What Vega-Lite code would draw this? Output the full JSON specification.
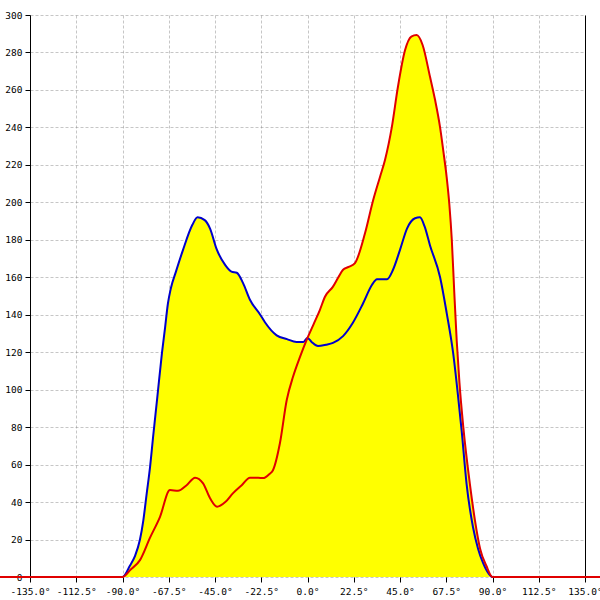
{
  "$schema": "https://vega.github.io/schema/vega-lite/v6.json",
  "width": 555,
  "height": 562,
  "autosize": {"type": "none"},
  "padding": {"left": 30, "top": 15, "right": 15, "bottom": 23},
  "background": "white",
  "config": {
    "view": {"stroke": null},
    "axis": {
      "labelFont": "DejaVu Sans Mono",
      "labelFontSize": 9.5,
      "labelColor": "#000000",
      "tickColor": "#000000",
      "tickSize": 5,
      "domainColor": "#000000",
      "gridColor": "#808080",
      "gridOpacity": 0.45,
      "gridDash": [3, 2],
      "gridWidth": 1,
      "title": null,
      "zindex": 1
    }
  },
  "data": {
    "values": [
      {"angle": -150, "value": 0, "series": "A"},
      {"angle": -135, "value": 0, "series": "A"},
      {"angle": -90, "value": 0, "series": "A"},
      {"angle": -86.4, "value": 6, "series": "A"},
      {"angle": -84, "value": 11, "series": "A"},
      {"angle": -81.5, "value": 20, "series": "A"},
      {"angle": -79.9, "value": 30, "series": "A"},
      {"angle": -78.2, "value": 44.8, "series": "A"},
      {"angle": -76.6, "value": 58.7, "series": "A"},
      {"angle": -75, "value": 76, "series": "A"},
      {"angle": -73.2, "value": 94.5, "series": "A"},
      {"angle": -70.8, "value": 119.6, "series": "A"},
      {"angle": -69.3, "value": 133, "series": "A"},
      {"angle": -67.9, "value": 146, "series": "A"},
      {"angle": -66.5, "value": 154, "series": "A"},
      {"angle": -64, "value": 163, "series": "A"},
      {"angle": -60.6, "value": 174.5, "series": "A"},
      {"angle": -56, "value": 188, "series": "A"},
      {"angle": -53.5, "value": 192, "series": "A"},
      {"angle": -50, "value": 190.5, "series": "A"},
      {"angle": -47.4, "value": 186, "series": "A"},
      {"angle": -44.2, "value": 175, "series": "A"},
      {"angle": -40, "value": 166.5, "series": "A"},
      {"angle": -37, "value": 163, "series": "A"},
      {"angle": -34.4, "value": 162.4, "series": "A"},
      {"angle": -31.4, "value": 157, "series": "A"},
      {"angle": -28, "value": 148, "series": "A"},
      {"angle": -23, "value": 140, "series": "A"},
      {"angle": -20.7, "value": 136, "series": "A"},
      {"angle": -15, "value": 129, "series": "A"},
      {"angle": -10, "value": 127, "series": "A"},
      {"angle": -5.3, "value": 125.5, "series": "A"},
      {"angle": -2, "value": 125.5, "series": "A"},
      {"angle": 0, "value": 127.6, "series": "A"},
      {"angle": 2, "value": 125.5, "series": "A"},
      {"angle": 5.1, "value": 123.3, "series": "A"},
      {"angle": 9, "value": 124, "series": "A"},
      {"angle": 12.4, "value": 125, "series": "A"},
      {"angle": 17.3, "value": 128.6, "series": "A"},
      {"angle": 22, "value": 135.6, "series": "A"},
      {"angle": 27, "value": 146, "series": "A"},
      {"angle": 31.4, "value": 156, "series": "A"},
      {"angle": 33.8, "value": 159, "series": "A"},
      {"angle": 38.7, "value": 159, "series": "A"},
      {"angle": 41.6, "value": 164, "series": "A"},
      {"angle": 45, "value": 174.6, "series": "A"},
      {"angle": 48.4, "value": 186, "series": "A"},
      {"angle": 52.3, "value": 191.5, "series": "A"},
      {"angle": 54.7, "value": 192, "series": "A"},
      {"angle": 57, "value": 187, "series": "A"},
      {"angle": 59.6, "value": 177, "series": "A"},
      {"angle": 64.5, "value": 160, "series": "A"},
      {"angle": 67.7, "value": 141, "series": "A"},
      {"angle": 70.8, "value": 120, "series": "A"},
      {"angle": 73.2, "value": 97, "series": "A"},
      {"angle": 75, "value": 78, "series": "A"},
      {"angle": 77.4, "value": 49.6, "series": "A"},
      {"angle": 80.5, "value": 26.7, "series": "A"},
      {"angle": 83, "value": 15, "series": "A"},
      {"angle": 85.4, "value": 7.5, "series": "A"},
      {"angle": 88, "value": 2, "series": "A"},
      {"angle": 90, "value": 0, "series": "A"},
      {"angle": 135, "value": 0, "series": "A"},
      {"angle": 150, "value": 0, "series": "A"},

      {"angle": -150, "value": 0, "series": "B"},
      {"angle": -135, "value": 0, "series": "B"},
      {"angle": -90, "value": 0, "series": "B"},
      {"angle": -86, "value": 4, "series": "B"},
      {"angle": -81.5, "value": 9, "series": "B"},
      {"angle": -76.6, "value": 21, "series": "B"},
      {"angle": -71.8, "value": 32, "series": "B"},
      {"angle": -66.9, "value": 46.4, "series": "B"},
      {"angle": -63, "value": 46, "series": "B"},
      {"angle": -58.8, "value": 49, "series": "B"},
      {"angle": -54.7, "value": 53, "series": "B"},
      {"angle": -50.8, "value": 50, "series": "B"},
      {"angle": -47.4, "value": 42, "series": "B"},
      {"angle": -44, "value": 37.5, "series": "B"},
      {"angle": -40, "value": 40, "series": "B"},
      {"angle": -36.2, "value": 44.8, "series": "B"},
      {"angle": -32, "value": 49, "series": "B"},
      {"angle": -28, "value": 53, "series": "B"},
      {"angle": -24, "value": 53, "series": "B"},
      {"angle": -21.6, "value": 52.8, "series": "B"},
      {"angle": -18.5, "value": 55, "series": "B"},
      {"angle": -16.8, "value": 57, "series": "B"},
      {"angle": -13.4, "value": 71.5, "series": "B"},
      {"angle": -10.1, "value": 94.5, "series": "B"},
      {"angle": -7, "value": 107, "series": "B"},
      {"angle": -3.6, "value": 117.6, "series": "B"},
      {"angle": 0, "value": 127.6, "series": "B"},
      {"angle": 3, "value": 135, "series": "B"},
      {"angle": 6, "value": 142.5, "series": "B"},
      {"angle": 8.5, "value": 149.6, "series": "B"},
      {"angle": 12.4, "value": 155, "series": "B"},
      {"angle": 15, "value": 160, "series": "B"},
      {"angle": 17.3, "value": 164, "series": "B"},
      {"angle": 20, "value": 165.5, "series": "B"},
      {"angle": 23.1, "value": 167.6, "series": "B"},
      {"angle": 28, "value": 183.6, "series": "B"},
      {"angle": 31.9, "value": 201, "series": "B"},
      {"angle": 35.3, "value": 213.7, "series": "B"},
      {"angle": 37.7, "value": 222.6, "series": "B"},
      {"angle": 41, "value": 240, "series": "B"},
      {"angle": 44, "value": 261.7, "series": "B"},
      {"angle": 47.4, "value": 281, "series": "B"},
      {"angle": 50.5, "value": 288.5, "series": "B"},
      {"angle": 53.1, "value": 289.3, "series": "B"},
      {"angle": 56, "value": 284, "series": "B"},
      {"angle": 59.6, "value": 267, "series": "B"},
      {"angle": 62, "value": 255, "series": "B"},
      {"angle": 64.5, "value": 240, "series": "B"},
      {"angle": 66, "value": 228, "series": "B"},
      {"angle": 67.7, "value": 213.5, "series": "B"},
      {"angle": 69, "value": 199, "series": "B"},
      {"angle": 70.2, "value": 180, "series": "B"},
      {"angle": 71.4, "value": 152, "series": "B"},
      {"angle": 72.6, "value": 126, "series": "B"},
      {"angle": 73.9, "value": 104, "series": "B"},
      {"angle": 75.8, "value": 80, "series": "B"},
      {"angle": 79, "value": 49.6, "series": "B"},
      {"angle": 81.5, "value": 30, "series": "B"},
      {"angle": 84, "value": 15, "series": "B"},
      {"angle": 87, "value": 6, "series": "B"},
      {"angle": 90, "value": 0, "series": "B"},
      {"angle": 135, "value": 0, "series": "B"},
      {"angle": 150, "value": 0, "series": "B"}
    ]
  },
  "encoding": {
    "x": {
      "field": "angle",
      "type": "quantitative",
      "scale": {"domain": [-135, 135], "nice": false, "zero": false},
      "axis": {
        "values": [-135, -112.5, -90, -67.5, -45, -22.5, 0, 22.5, 45, 67.5, 90, 112.5, 135],
        "labelExpr": "(datum.value < 0 ? '-' : '') + format(abs(datum.value), '.1f') + '°'",
        "domain": false,
        "labelPadding": 4,
        "labelFlush": false,
        "labelOverlap": false
      }
    }
  },
  "layer": [
    {
      "mark": {"type": "area", "color": "#ffff00", "opacity": 1, "interpolate": "monotone"},
      "encoding": {
        "detail": {"field": "series"},
        "y": {
          "field": "value",
          "type": "quantitative",
          "stack": null,
          "scale": {"domain": [0, 300], "nice": false},
          "axis": {
            "values": [0, 20, 40, 60, 80, 100, 120, 140, 160, 180, 200, 220, 240, 260, 280, 300],
            "labelPadding": 3,
            "labelFlush": false,
            "labelOverlap": false
          }
        }
      }
    },
    {
      "transform": [{"filter": "datum.series == 'A'"}],
      "mark": {"type": "line", "color": "#0000cc", "strokeWidth": 2, "interpolate": "monotone"},
      "encoding": {
        "y": {"field": "value", "type": "quantitative", "stack": null, "axis": null}
      }
    },
    {
      "transform": [{"filter": "datum.series == 'B'"}],
      "mark": {"type": "line", "color": "#e00000", "strokeWidth": 2, "interpolate": "monotone"},
      "encoding": {
        "y": {
          "field": "value",
          "type": "quantitative",
          "stack": null,
          "axis": {"orient": "right", "values": [], "labels": false, "labelOpacity": 0, "ticks": false, "grid": false, "domain": true, "zindex": 0}
        }
      }
    }
  ],
  "resolve": {"axis": {"y": "independent"}}
}
